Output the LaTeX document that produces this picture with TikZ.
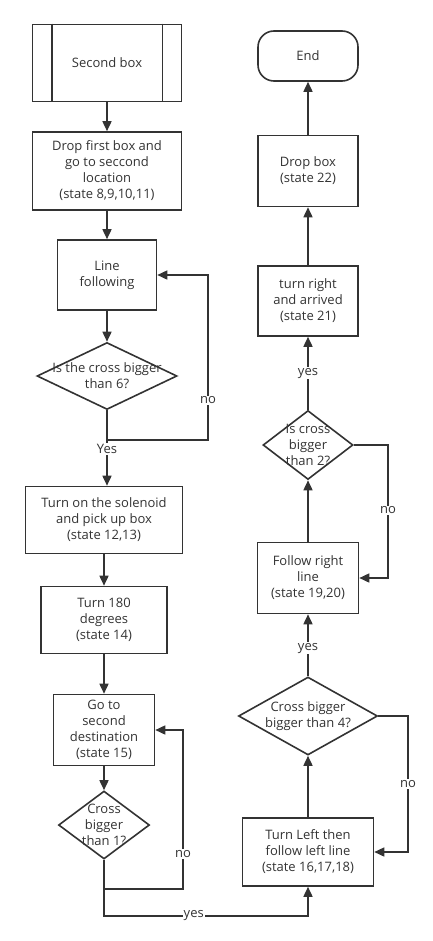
\documentclass[tikz,border=0pt]{standalone}
\usepackage{fontspec}
\setmainfont{Open Sans}
\usetikzlibrary{shapes.geometric, arrows.meta, positioning}
\definecolor{ink}{RGB}{51, 51, 51}

\begin{document}
\begin{tikzpicture}[x=1pt, y=-1pt,
    font=\fontsize{13}{16}\selectfont, text=ink,
    box/.style={rectangle, draw=ink, line width=1.6pt, align=center, inner sep=2pt},
    term/.style={box, rounded corners=16pt},
    decision/.style={diamond, draw=ink, line width=1.6pt, inner sep=0pt},
    arr/.style={draw=ink, line width=1.6pt, -{Triangle[length=10pt, width=9pt]}},
    wire/.style={draw=ink, line width=1.6pt},
    lbl/.style={fill=white, inner sep=1pt}]

    \useasboundingbox (0,0) rectangle (433,941);

    % left column
    \node[box, minimum width=149pt, minimum height=77pt] (second) at (107,63) {Second box};
    \draw[wire] ([xshift=20pt]second.north west) -- ([xshift=20pt]second.south west);
    \draw[wire] ([xshift=-20pt]second.north east) -- ([xshift=-20pt]second.south east);
    \node[box, minimum width=149pt, minimum height=78pt] (dropfirst) at (107,171) {Drop first box and\\go to seccond\\location\\(state 8,9,10,11)};
    \node[box, minimum width=99pt, minimum height=70pt] (linefollow) at (107,275) {Line\\following};
    \node[decision, minimum width=140pt, minimum height=67pt,
          label={[align=center]center:{Is the cross bigger\\than 6?}}] (cross6) at (107,376) {};
    \node[box, minimum width=157pt, minimum height=67pt] (solenoid) at (104,520) {Turn on the solenoid\\and pick up box\\(state 12,13)};
    \node[box, minimum width=126pt, minimum height=67pt] (turn180) at (104,620) {Turn 180\\degrees\\(state 14)};
    \node[box, minimum width=101pt, minimum height=71pt] (gosecond) at (104,730) {Go to\\second\\destination\\(state 15)};
    \node[decision, minimum width=91pt, minimum height=68pt,
          label={[align=center]center:{Cross\\bigger\\than 1?}}] (cross1) at (104,825) {};

    % right column
    \node[box, minimum width=131pt, minimum height=68pt] (turnleft) at (308,852) {Turn Left then\\follow left line\\(state 16,17,18)};
    \node[decision, minimum width=139pt, minimum height=78pt,
          label={[align=center]center:{Cross bigger\\bigger than 4?}}] (cross4) at (308,716) {};
    \node[box, minimum width=101pt, minimum height=71pt] (followright) at (308,578) {Follow right\\line\\(state 19,20)};
    \node[decision, minimum width=90pt, minimum height=69pt,
          label={[align=center]center:{Is cross\\bigger\\than 2?}}] (cross2) at (308,445) {};
    \node[box, minimum width=100pt, minimum height=70pt] (turnright) at (308,301) {turn right\\and arrived\\(state 21)};
    \node[box, minimum width=100pt, minimum height=71pt] (dropbox) at (308,171) {Drop box\\(state 22)};
    \node[term, minimum width=100pt, minimum height=50pt] (finish) at (308,56) {End};

    \coordinate (j1) at (107,440);
    \coordinate (r1) at (208,440);
    \coordinate (j2) at (104,889);
    \coordinate (r2) at (183,889);
    \coordinate (j3) at (104,916);
    \coordinate (r3) at (408,716);
    \coordinate (r4) at (388,445);

    \draw[arr] (second) -- (dropfirst);
    \draw[arr] (dropfirst) -- (linefollow);
    \draw[arr] (linefollow) -- (cross6);
    \draw[wire] (cross6.south) -- (j1);
    \draw[arr] (j1) -- (r1) |- node[lbl, pos=0.12]{no} (linefollow.east);
    \draw[arr] (j1) -- node[lbl, pos=0.2]{Yes} (solenoid.north -| j1);
    \draw[arr] (solenoid) -- (turn180);
    \draw[arr] (turn180) -- (gosecond);
    \draw[arr] (gosecond) -- (cross1);
    \draw[wire] (cross1.south) -- (j2);
    \draw[arr] (j2) -- (r2) |- node[lbl, pos=0.11]{no} (gosecond.east);
    \draw[arr] (j2) -- (j3) -| node[lbl, pos=0.22]{yes} (turnleft.south);
    \draw[arr] (turnleft) -- (cross4);
    \draw[arr] (cross4.east) -- (r3) |- node[lbl, pos=0.25]{no} (turnleft.east);
    \draw[arr] (cross4) -- node[lbl, pos=0.45]{yes} (followright);
    \draw[arr] (followright) -- (cross2);
    \draw[arr] (cross2.east) -- (r4) |- node[lbl, pos=0.245]{no} (followright.east);
    \draw[arr] (cross2) -- node[lbl, pos=0.5]{yes} (turnright);
    \draw[arr] (turnright) -- (dropbox);
    \draw[arr] (dropbox) -- (finish);
\end{tikzpicture}
\end{document}
